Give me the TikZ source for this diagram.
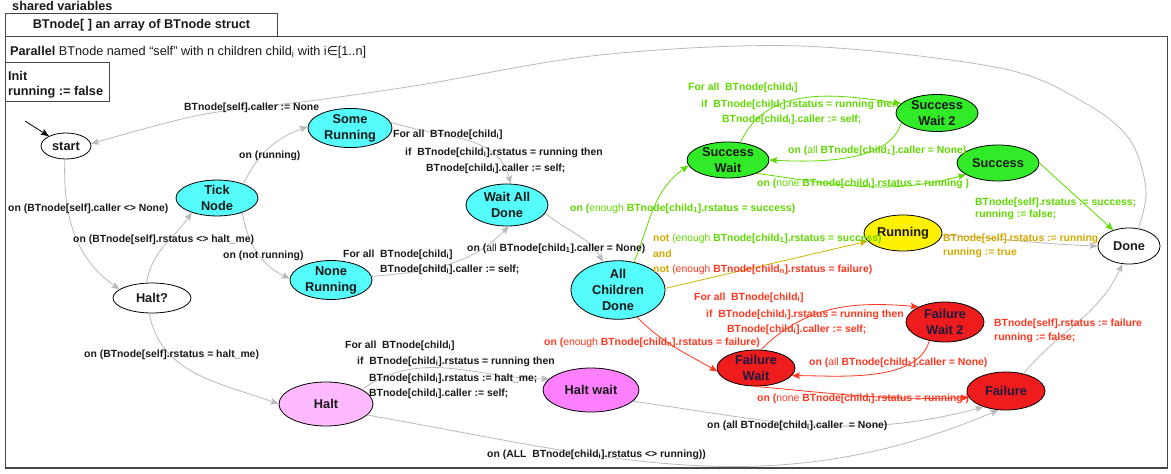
\documentclass[tikz,border=0pt]{standalone}
\usepackage{fontspec}
\setmainfont{Liberation Sans}
\newfontfamily\dejavu{DejaVu Sans}
\usetikzlibrary{shapes.geometric,arrows.meta}
\definecolor{cyanf}{RGB}{85,252,252}
\definecolor{greenf}{RGB}{50,235,40}
\definecolor{redf}{RGB}{238,28,28}
\definecolor{haltf}{RGB}{255,185,255}
\definecolor{hwf}{RGB}{255,128,255}
\definecolor{gtext}{RGB}{95,215,0}
\definecolor{rtext}{RGB}{255,55,30}
\definecolor{ytext}{RGB}{210,168,0}
\definecolor{oline}{RGB}{200,180,0}
\definecolor{egray}{RGB}{185,185,185}
\definecolor{ktext}{RGB}{25,25,25}
\definecolor{ntext}{RGB}{30,25,60}
\definecolor{framec}{RGB}{70,70,70}
\newcommand{\chd}[1]{child\textsubscript{#1}}
\newcommand{\md}[1]{{\mdseries #1}}
\begin{document}
\begin{tikzpicture}[x=1pt,y=1pt,
  st/.style={ellipse, draw=black, line width=0.8pt, inner sep=0pt, align=center,
    text=ktext, font=\fontsize{12.8}{16}\selectfont\bfseries},
  lab/.style={anchor=base west, inner sep=0pt, font=\fontsize{10.4}{12}\selectfont\bfseries, text=ktext},
  big/.style={anchor=base west, inner sep=0pt, font=\fontsize{12.7}{15}\selectfont, text=ktext},
  tip/.style={-{Stealth[length=8pt,width=6.5pt,inset=1.5pt]}},
  ge/.style={tip, draw=egray, line width=0.8pt},
  gr/.style={tip, draw=gtext, line width=0.8pt},
  re/.style={tip, draw=rtext, line width=0.8pt},
]
\useasboundingbox (0,0) rectangle (1171,-474);

% frames
\draw[framec, line width=0.9pt] (5,-36) rectangle (1167,-468);
\draw[framec, line width=1.6pt] (5,-468) -- (1167,-468);
\node[draw=framec, line width=0.9pt, anchor=north west, minimum width=272pt, minimum height=23pt, inner sep=0pt,
  font=\fontsize{12.7}{15}\selectfont\bfseries, text=ktext] (arr) at (5,-13) {BTnode[ ] an array of BTnode struct};
\draw[framec, line width=0.9pt] (5,-62) rectangle (109,-101);
\node[big, font=\fontsize{12.7}{15}\selectfont\bfseries] (shv) at (12,-10) {shared variables};
\node[big] (par) at (10,-55.5) {\textbf{Parallel} BTnode named “self” with n children \chd{i} with i{\dejavu ∈}[1..n]};
\node[big, font=\fontsize{12.7}{15}\selectfont\bfseries] (init1) at (8,-80) {Init};
\node[big, font=\fontsize{12.7}{15}\selectfont\bfseries] (init2) at (8,-95) {running := false};

% states
\node[st, minimum width=50pt, minimum height=26pt] (start) at (66,-146) {start};
\node[st, fill=cyanf, minimum width=82pt, minimum height=34pt] (tick) at (217,-198) {Tick\\Node};
\node[st, fill=cyanf, minimum width=84pt, minimum height=38pt] (some) at (350,-128) {Some\\Running};
\node[st, fill=cyanf, minimum width=82pt, minimum height=34pt] (none) at (331,-280) {None\\Running};
\node[st, minimum width=78pt, minimum height=30pt] (haltq) at (152,-298) {Halt?};
\node[st, fill=cyanf, minimum width=82pt, minimum height=42pt] (wad) at (507,-205) {Wait All\\Done};
\node[st, fill=cyanf, minimum width=94pt, minimum height=56pt] (acd) at (618,-290) {All\\Children\\Done};
\node[st, fill=greenf, minimum width=82pt, minimum height=36pt] (sw) at (728,-160) {Success\\Wait};
\node[st, fill=greenf, minimum width=82pt, minimum height=37pt] (sw2) at (937,-113) {Success\\Wait 2};
\node[st, fill=greenf, minimum width=82pt, minimum height=36pt] (success) at (998,-163) {Success};
\node[st, fill=yellow, minimum width=78pt, minimum height=36pt] (running) at (903,-233) {Running};
\node[st, minimum width=62pt, minimum height=36pt] (done) at (1129,-246) {Done};
\node[st, fill=redf, text=ntext, minimum width=78pt, minimum height=40pt] (fw2) at (945,-322) {Failure\\Wait 2};
\node[st, fill=redf, text=ntext, minimum width=78pt, minimum height=36pt] (fw) at (756,-368) {Failure\\Wait};
\node[st, fill=redf, text=ntext, minimum width=78pt, minimum height=38pt] (failure) at (1006,-391) {Failure};
\node[st, fill=haltf, minimum width=94pt, minimum height=44pt] (halt) at (326,-404) {Halt};
\node[st, fill=hwf, minimum width=96pt, minimum height=44pt] (hw) at (591,-390) {Halt wait};

% connectors
\coordinate (ini) at (25,-121);
\draw[tip, draw=black, line width=0.8pt] (ini) -- (start.150);
\draw[ge] plot[smooth, tension=0.55] coordinates {(done.62) (1146,-190) (1130,-140) (1085,-103) (1000,-68) (800,-46) (600,-55) (420,-85) (317,-100) (200,-115) (start.5)};
\draw[ge] (start.-95) to[out=-92,in=145] (haltq.165);
\draw[ge] (haltq.110) to[out=80,in=235] (tick.210);
\draw[ge] (tick.28) to[out=65,in=200] (some.178);
\draw[ge] (tick.-30) to[out=-80,in=155] (none.178);
\draw[ge] (some.8) to[out=-18,in=105] (wad.80);
\draw[ge] (none.5) to[out=5,in=225] (wad.-85);
\draw[ge] (wad.-12) to[out=-40,in=120] (acd.118);
\draw[gr] (acd.60) to[out=68,in=215] (sw.188);
\draw[gr] (sw.55) to[out=65,in=172] (sw2.165);
\draw[gr] (sw2.195) to[out=-105,in=-3,looseness=0.8] (sw.0);
\draw[gr] (sw.-25) to[out=-8,in=195] (success.200);
\draw[gr] (success.0) -- (done.135);
\draw[tip, draw=oline, line width=0.8pt] (acd.2) -- (running.193);
\draw[ge] (running.-3) to[out=-3,in=178] (done.180);
\draw[re] (acd.-55) to[out=-45,in=150] (fw.185);
\draw[re] (fw.75) to[out=45,in=175] (fw2.150);
\draw[re] (fw2.-130) to[out=-105,in=0,looseness=0.8] (fw.-12);
\draw[re] (fw.-95) to[out=-5,in=182] (failure.190);
\draw[ge] (failure.45) to[out=50,in=-115] (done.-110);
\draw[ge] (haltq.-100) to[out=-80,in=160] (halt.180);
\draw[ge] (halt.22) to[out=35,in=180] (hw.165);
\draw[ge] (hw.-15) to[out=-8,in=195] (failure.215);
\draw[ge] (halt.-15) to[out=-10,in=203] (failure.-112);

% black labels
\node[lab] (l1) at (184,-110) {BTnode[self].caller := None};
\node[lab] (l2) at (8,-211) {on (BTnode[self].caller <> None)};
\node[lab] (l3) at (73,-242) {on (BTnode[self].rstatus <> halt\_me)};
\node[lab] (l4) at (239,-158) {on (running)};
\node[lab] (l5) at (223,-258) {on (not running)};
\node[lab] (l6) at (393,-137) {For all~ BTnode[\chd{i}]};
\node[lab] (l7) at (405,-155) {if~ BTnode[\chd{i}].rstatus = running then};
\node[lab] (l8) at (426,-171) {BTnode[\chd{i}].caller := self;};
\node[lab] (l9) at (343,-257) {For all~ BTnode[\chd{i}]};
\node[lab] (l10) at (380,-272) {BTnode[\chd{i}].caller := self;};
\node[lab] (l11) at (467,-251) {on (\md{all} BTnode[\chd{1}].caller = None)};
\node[lab] (l12) at (84,-357) {on (BTnode[self].rstatus = halt\_me)};
\node[lab] (l13) at (345,-348) {For all~ BTnode[\chd{i}]};
\node[lab] (l14) at (357,-364) {if~ BTnode[\chd{i}].rstatus = running then};
\node[lab] (l15) at (369,-381) {BTnode[\chd{i}].rstatus := halt\_me;};
\node[lab] (l16) at (369,-396) {BTnode[\chd{i}].caller := self;};
\node[lab] (l17) at (707,-428) {on (all BTnode[\chd{i}].caller~ = None)};
\node[lab] (l18) at (487,-457) {on (ALL~ BTnode[\chd{i}].rstatus <> running))};

% green labels
\node[lab, text=gtext] (g1) at (570,-211) {on (\md{enough} BTnode[\chd{1}].rstatus = success)};
\node[lab, text=gtext] (g2) at (688,-90) {For all~ BTnode[\chd{i}]};
\node[lab, text=gtext] (g3) at (701,-107) {if~ BTnode[\chd{i}].rstatus = running then};
\node[lab, text=gtext] (g4) at (722,-122) {BTnode[\chd{i}].caller := self;};
\node[lab, text=gtext] (g5) at (788,-153) {on (\md{all} BTnode[\chd{1}].caller = None)};
\node[lab, text=gtext] (g6) at (757,-186) {on (\md{none} BTnode[\chd{i}].rstatus = running )};
\node[lab, text=gtext] (g7) at (975,-205) {BTnode[self].rstatus := success;};
\node[lab, text=gtext] (g8) at (975,-217) {running := false;};

% mixed / gold labels
\node[lab, text=gtext] (m1) at (653,-241) {\textcolor{ytext}{not} \md{(enough} BTnode[\chd{1}].rstatus = success)};
\node[lab, text=ytext] (m2) at (653,-257) {and};
\node[lab, text=rtext] (m3) at (653,-272) {\textcolor{ytext}{not} \md{(enough} BTnode[\chd{n}].rstatus = failure)};
\node[lab, text=ytext] (y1) at (943,-241) {BTnode[self].rstatus := running};
\node[lab, text=ytext] (y2) at (943,-255) {running := true};

% red labels
\node[lab, text=rtext] (r1) at (544,-345) {on (\md{enough} BTnode[\chd{n}].rstatus = failure)};
\node[lab, text=rtext] (r2) at (694,-300) {For all~ BTnode[\chd{i}]};
\node[lab, text=rtext] (r3) at (706,-317) {if~ BTnode[\chd{i}].rstatus = running then};
\node[lab, text=rtext] (r4) at (727,-332) {BTnode[\chd{i}].caller := self;};
\node[lab, text=rtext] (r5) at (809,-365) {on (\md{all} BTnode[\chd{1}].caller = None)};
\node[lab, text=rtext] (r6) at (757,-401) {on (\md{none} BTnode[\chd{i}].rstatus = running )};
\node[lab, text=rtext] (r7) at (994,-326) {BTnode[self].rstatus := failure};
\node[lab, text=rtext] (r8) at (994,-340) {running := false;};
\end{tikzpicture}
\end{document}
